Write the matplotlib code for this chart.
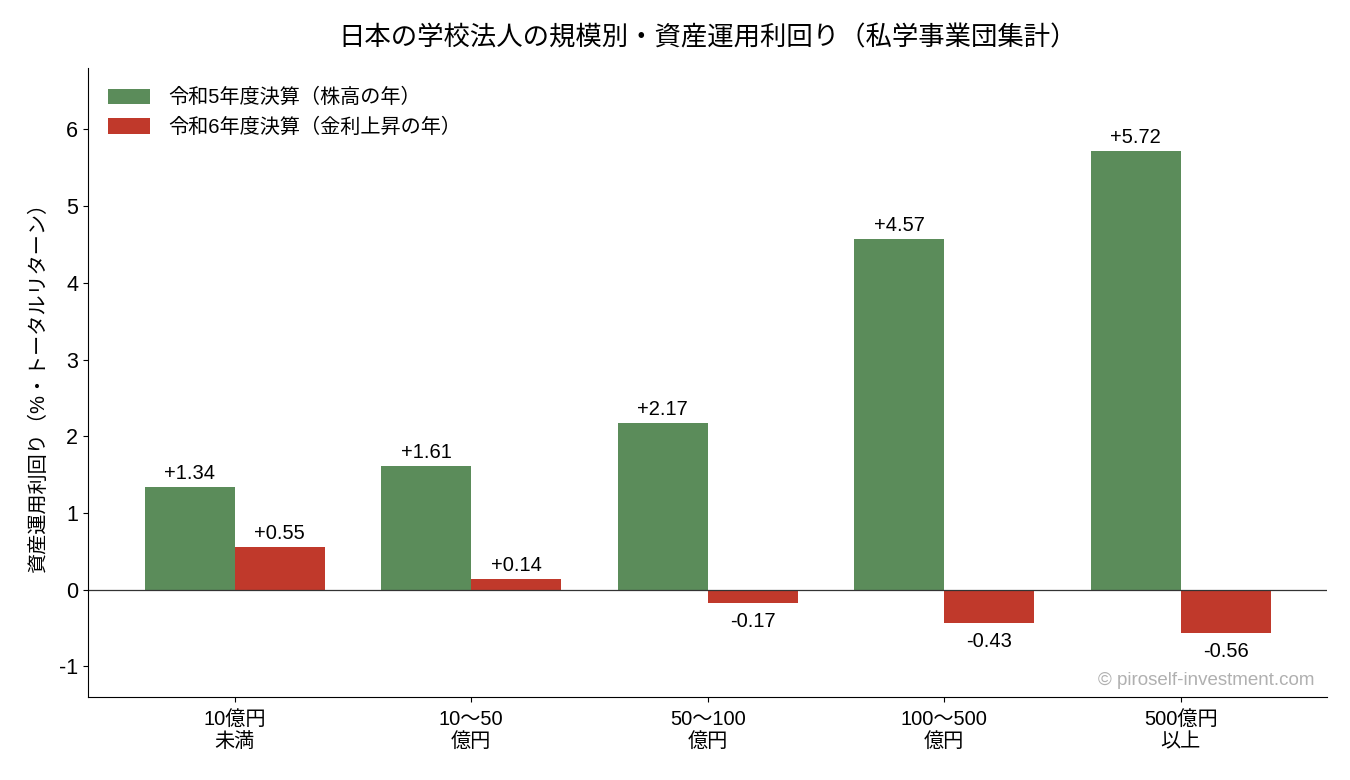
import matplotlib
matplotlib.use("Agg")
import matplotlib.pyplot as plt
import numpy as np

plt.rcParams['font.family'] = ['Liberation Sans', 'Noto Sans CJK JP', 'DejaVu Sans']

categories = ["10億円\n未満", "10〜50\n億円", "50〜100\n億円", "100〜500\n億円", "500億円\n以上"]
r5 = [1.34, 1.61, 2.17, 4.57, 5.72]
r6 = [0.55, 0.14, -0.17, -0.43, -0.56]
series_names = ["令和5年度決算（株高の年）", "令和6年度決算（金利上昇の年）"]
yticks = [-1, 0, 1, 2, 3, 4, 5, 6]

fig = plt.figure(figsize=(13.5, 7.8), dpi=100)
ax = fig.add_axes([0.0652, 0.1064, 0.918, 0.8064])

x = np.arange(len(categories))
w = 0.38
green = "#5b8c5a"
red = "#c0392b"
b1 = ax.bar(x - w/2, r5, w, color=green, label=series_names[0])
b2 = ax.bar(x + w/2, r6, w, color=red, label=series_names[1])

vfs = 14.5
for rect, v in zip(b1, r5):
    ax.annotate(f"{v:+.2f}", (rect.get_x() + rect.get_width()/2, v),
                xytext=(0, 3), textcoords="offset points", ha="center", va="bottom", fontsize=vfs)
for rect, v in zip(b2, r6):
    if v >= 0:
        ax.annotate(f"{v:+.2f}", (rect.get_x() + rect.get_width()/2, v),
                    xytext=(0, 3), textcoords="offset points", ha="center", va="bottom", fontsize=vfs)
    else:
        ax.annotate(f"{v:.2f}", (rect.get_x() + rect.get_width()/2, v),
                    xytext=(0, -7), textcoords="offset points", ha="center", va="top", fontsize=vfs)

ax.axhline(0, color="#333333", linewidth=0.9)
ax.set_xlim(-0.62, 4.62)
ax.set_ylim(-1.4, 6.8)
ax.set_yticks(yticks)
ax.set_yticklabels([str(t) for t in yticks])
ax.set_xticks(x)
ax.set_xticklabels(categories, fontsize=14.5, linespacing=1.2)
ax.tick_params(axis='y', labelsize=15.5)
ax.tick_params(axis='x', pad=6)
ax.spines['top'].set_visible(False)
ax.spines['right'].set_visible(False)
ax.set_ylabel("資産運用利回り（%・トータルリターン）", fontsize=14.5, labelpad=8)

ax.legend(loc="upper left", frameon=False, fontsize=14.5, handlelength=2.1, handleheight=0.8,
          handletextpad=0.9, borderaxespad=0.6, borderpad=0.4, labelspacing=0.5)
ax.set_title("日本の学校法人の規模別・資産運用利回り（私学事業団集計）", fontsize=19, pad=16)
ax.text(0.99, 0.012, "© piroself-investment.com", transform=ax.transAxes, ha="right", va="bottom",
        fontsize=13.5, color="#b0b0b0")

fig.savefig("out.png", dpi=100)
